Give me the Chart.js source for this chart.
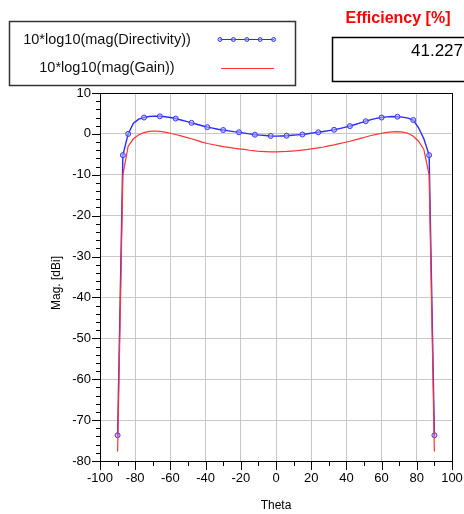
<!DOCTYPE html>
<html>
<head>
<meta charset="utf-8">
<script src="https://cdn.jsdelivr.net/npm/chart.js@4.4.1/dist/chart.umd.min.js"></script>
<style>
  html, body { margin: 0; padding: 0; background: #fff; }
  #wrap { position: relative; width: 464px; height: 514px; }
</style>
</head>
<body>
<div id="wrap"><canvas id="chart" width="464" height="514"></canvas></div>
<script>
// Theta sweep (deg), 3 degree steps
const theta = [-90, -87, -84, -81, -78, -75, -72, -69, -66, -63, -60, -57, -54, -51, -48, -45,
  -42, -39, -36, -33, -30, -27, -24, -21, -18, -15, -12, -9, -6, -3, 0, 3, 6, 9, 12, 15, 18,
  21, 24, 27, 30, 33, 36, 39, 42, 45, 48, 51, 54, 57, 60, 63, 66, 69, 72, 75, 78, 81, 84, 87, 90];

// 10*log10(mag(Directivity)) [dBi]
const directivity = [-73.7, -5.2, 0.0, 2.6, 3.6, 4.0, 4.25, 4.35, 4.3, 4.2, 4.0, 3.75, 3.4, 3.05,
  2.7, 2.35, 2.0, 1.65, 1.4, 1.15, 0.95, 0.75, 0.55, 0.4, 0.2, 0.0, -0.2, -0.3, -0.4, -0.5,
  -0.55, -0.5, -0.45, -0.35, -0.25, -0.15, 0.05, 0.25, 0.4, 0.6, 0.8, 1.0, 1.3, 1.6, 1.9, 2.3,
  2.7, 3.1, 3.5, 3.8, 4.0, 4.15, 4.25, 4.2, 4.1, 3.85, 3.4, 1.5, -1.2, -5.2, -73.7];

// 10*log10(mag(Gain)) [dBi]
const gain = [-77.7, -10, -3.0, -1.2, -0.2, 0.3, 0.6, 0.7, 0.6, 0.45, 0.15, -0.15, -0.5, -0.85,
  -1.2, -1.6, -2.0, -2.35, -2.6, -2.85, -3.1, -3.3, -3.5, -3.65, -3.8, -4.0, -4.15, -4.3, -4.35,
  -4.4, -4.4, -4.35, -4.3, -4.2, -4.1, -3.95, -3.8, -3.6, -3.4, -3.2, -2.95, -2.7, -2.4, -2.1,
  -1.8, -1.45, -1.1, -0.75, -0.4, -0.1, 0.15, 0.35, 0.5, 0.55, 0.45, 0.15, -0.6, -1.8, -3.8,
  -10, -77.7];

// theta values where the directivity trace shows a marker
const markerTheta = [-90, -87, -84, -75, -66, -57, -48, -39, -30, -21, -12, -3, 6, 15, 24, 33,
  42, 51, 60, 69, 78, 87, 90];

const seriesLabels = ['10*log10(mag(Directivity))', '10*log10(mag(Gain))'];
const efficiencyLabel = 'Efficiency [%]';
const efficiencyValue = '41.227';

const FONT = '"Liberation Sans", Arial, sans-serif';

const decorations = {
  id: 'decorations',
  afterDraw(chart) {
    const { ctx, chartArea: a, scales: { x, y } } = chart;
    const ds = chart.data.datasets;
    ctx.save();

    // plot frame
    ctx.strokeStyle = '#000';
    ctx.lineWidth = 1;
    ctx.strokeRect(Math.round(a.left) + 0.5, Math.round(a.top) + 0.5,
      Math.round(a.right - a.left), Math.round(a.bottom - a.top));

    // tick marks (major + minor)
    ctx.beginPath();
    for (let v = y.min; v <= y.max; v += 2) {
      const py = Math.round(y.getPixelForValue(v)) + 0.5;
      const len = v % 10 === 0 ? 8 : 4;
      ctx.moveTo(a.left - len, py);
      ctx.lineTo(a.left, py);
    }
    for (let v = x.min; v <= x.max; v += 10) {
      const px = Math.round(x.getPixelForValue(v)) + 0.5;
      const len = v % 20 === 0 ? 9 : 5;
      ctx.moveTo(px, a.bottom);
      ctx.lineTo(px, a.bottom + len);
    }
    ctx.stroke();

    // axis titles
    ctx.fillStyle = '#000';
    ctx.font = '12px ' + FONT;
    ctx.textAlign = 'center';
    ctx.textBaseline = 'middle';
    ctx.fillText('Theta', (a.left + a.right) / 2, 506);
    ctx.save();
    ctx.translate(57, (a.top + a.bottom) / 2 + 6);
    ctx.rotate(-Math.PI / 2);
    ctx.fillText('Mag. [dBi]', 0, 0);
    ctx.restore();

    // legend box
    ctx.strokeStyle = '#333';
    ctx.lineWidth = 1.5;
    ctx.strokeRect(9.5, 21.5, 286, 64);
    ctx.font = '14.5px ' + FONT;
    ctx.fillStyle = '#111';
    ctx.fillText(seriesLabels[0], 107, 40);
    ctx.fillText(seriesLabels[1], 107, 68);

    // legend samples
    ctx.lineWidth = 1;
    ctx.strokeStyle = ds[0].borderColor;
    ctx.beginPath();
    ctx.moveTo(220, 39.5);
    ctx.lineTo(274, 39.5);
    ctx.stroke();
    for (let i = 0; i < 5; i++) {
      ctx.beginPath();
      ctx.arc(220 + i * 13.4, 39.5, 2, 0, Math.PI * 2);
      ctx.fillStyle = ds[0].pointBackgroundColor;
      ctx.fill();
      ctx.strokeStyle = ds[0].pointBorderColor;
      ctx.stroke();
    }
    ctx.strokeStyle = ds[1].borderColor;
    ctx.beginPath();
    ctx.moveTo(221, 68.5);
    ctx.lineTo(274, 68.5);
    ctx.stroke();

    // efficiency readout
    ctx.fillStyle = '#ff0000';
    ctx.font = 'bold 16px ' + FONT;
    ctx.fillText(efficiencyLabel, 398, 19);
    ctx.strokeStyle = '#000';
    ctx.lineWidth = 1.5;
    ctx.strokeRect(332.5, 37.5, 150, 44);
    ctx.fillStyle = '#000';
    ctx.font = '17px ' + FONT;
    ctx.textAlign = 'left';
    ctx.fillText(efficiencyValue, 411, 51);

    ctx.restore();
  }
};

const chart = new Chart(document.getElementById('chart'), {
  type: 'line',
  data: {
    datasets: [
      {
        label: seriesLabels[0],
        data: theta.map((t, i) => ({ x: t, y: directivity[i] })),
        borderColor: '#2a2aff',
        borderWidth: 1.4,
        pointRadius: ctx => markerTheta.includes(theta[ctx.dataIndex]) ? 2.5 : 0,
        pointBackgroundColor: 'rgba(170,170,255,0.6)',
        pointBorderColor: '#3a3aff',
        pointBorderWidth: 1,
        tension: 0,
        order: 2
      },
      {
        label: seriesLabels[1],
        data: theta.map((t, i) => ({ x: t, y: gain[i] })),
        borderColor: '#ff3333',
        borderWidth: 1.2,
        pointRadius: 0,
        tension: 0,
        order: 1
      }
    ]
  },
  options: {
    responsive: false,
    animation: false,
    devicePixelRatio: 1,
    layout: { padding: { left: 0, top: 93, right: 12, bottom: 0 } },
    plugins: {
      legend: { display: false },
      tooltip: { enabled: false }
    },
    scales: {
      x: {
        type: 'linear',
        min: -100,
        max: 100,
        afterFit: s => { s.height = 53; s.paddingLeft = 0; s.paddingRight = 0; },
        border: { display: false },
        grid: { color: '#c8c8c8', drawTicks: false },
        ticks: {
          stepSize: 20,
          padding: 10,
          maxRotation: 0,
          autoSkip: false,
          color: '#000',
          font: { family: FONT, size: 13 }
        }
      },
      y: {
        type: 'linear',
        min: -80,
        max: 10,
        afterFit: s => { s.width = 100; s.paddingTop = 0; s.paddingBottom = 0; },
        border: { display: false },
        grid: { color: '#c8c8c8', drawTicks: false },
        ticks: {
          stepSize: 10,
          padding: 9,
          autoSkip: false,
          color: '#000',
          font: { family: FONT, size: 13 }
        }
      }
    }
  },
  plugins: [decorations]
});
</script>
</body>
</html>
